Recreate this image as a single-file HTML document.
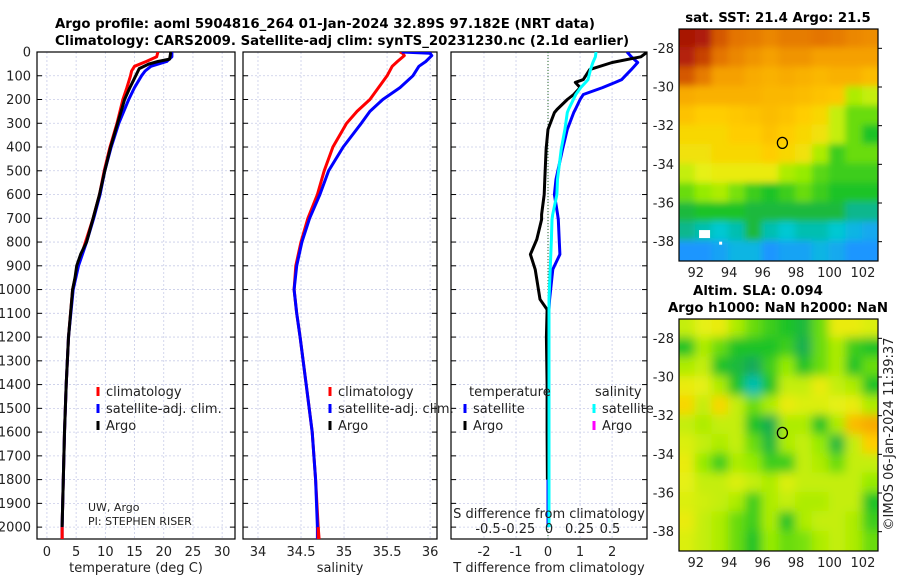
<!DOCTYPE html>
<html><head><meta charset="utf-8"><style>
html,body{margin:0;padding:0;background:#fff}
svg{display:block;font-family:"DejaVu Sans","Liberation Sans",sans-serif}
</style></head><body>
<svg id="fig" width="900" height="580" viewBox="0 0 900 580" xmlns="http://www.w3.org/2000/svg">
<defs>
<clipPath id="c1"><rect x="37" y="52" width="198" height="487"/></clipPath>
<clipPath id="c2"><rect x="243" y="52" width="194" height="487"/></clipPath>
<clipPath id="c3"><rect x="451" y="52" width="196" height="487"/></clipPath>
<clipPath id="cm1"><rect x="679" y="29" width="199" height="232"/></clipPath>
<clipPath id="cm2"><rect x="679" y="319" width="199" height="232"/></clipPath>
<filter id="blr" x="-10%" y="-10%" width="120%" height="120%"><feGaussianBlur stdDeviation="5"/></filter>
<filter id="blr2" x="-10%" y="-10%" width="120%" height="120%"><feGaussianBlur stdDeviation="3.5"/></filter>
</defs>
<text x="55" y="28" font-size="13.3" font-weight="bold">Argo profile: aoml 5904816_264 01-Jan-2024 32.89S 97.182E (NRT data)</text>
<text x="55" y="45" font-size="13.3" font-weight="bold">Climatology: CARS2009. Satellite-adj clim: synTS_20231230.nc (2.1d earlier)</text>
<g id="g"></g>
</svg>
<script>
// ---- profile data ----
const depthT = [0,20,40,60,80,100,150,200,300,400,500,600,700,800,900,1000,1200,1400,1600,1800,2000,2050];
const tempClim = [19.0,18.8,17.0,15.0,14.5,14.3,13.7,13.0,12.0,10.8,9.8,9.0,7.9,6.6,5.3,4.4,3.7,3.3,3.0,2.8,2.6,2.6];
const tempSat = [21.4,21.4,20.5,17.8,16.8,16.2,15.0,14.0,12.3,11.0,9.9,9.1,8.0,6.8,5.4,4.5,3.7,3.3,3.0,2.8,2.6,2.6];
const depthArgo = [0,30,40,50,70,100,130,150,200,300,400,500,600,700,800,850,900,950,1000,1200,1400,1600,1800,2000];
const tempArgo = [21.2,21.0,19.0,17.5,15.8,15.2,14.6,14.2,13.3,12.1,10.9,9.9,9.0,7.9,6.8,5.8,5.1,4.8,4.4,3.7,3.3,3.0,2.8,2.6];
const depthS = [0,5,15,40,60,100,150,200,250,300,400,500,600,700,800,900,1000,1100,1200,1400,1600,1800,2000,2050];
const salClim = [35.65,35.68,35.7,35.62,35.56,35.5,35.4,35.3,35.15,35.03,34.87,34.77,34.69,34.58,34.5,34.44,34.42,34.45,34.49,34.56,34.63,34.67,34.7,34.71];
const salSat = [35.67,36.0,36.02,35.95,35.87,35.8,35.65,35.45,35.3,35.2,34.99,34.82,34.72,34.6,34.51,34.45,34.42,34.45,34.49,34.56,34.63,34.67,34.69,34.69];
const depthD = [0,20,44,74,116,128,150,179,200,242,255,326,410,536,600,684,705,789,852,915,1041,1084,1200,1400,1600,1800,2000];
const tDiffSat = [2.47,2.6,2.8,2.6,2.3,2.1,1.7,1.1,1.0,0.85,0.8,0.6,0.45,0.25,0.2,0.3,0.32,0.35,0.37,0.15,0.05,0.03,0.02,0.0,0.0,0.0,0.0];
const tDiffArgo = [3.1,2.9,2.0,1.3,1.1,0.85,1.0,0.8,0.6,0.28,0.2,0.0,-0.06,-0.1,-0.12,-0.2,-0.2,-0.35,-0.55,-0.4,-0.25,-0.03,-0.05,-0.03,-0.03,-0.02,null];
const sDiffSat = [0.385,0.38,0.36,0.34,0.32,0.3,0.26,0.22,0.2,0.16,0.15,0.13,0.1,0.07,0.065,0.03,0.025,0.02,0.015,0.01,0.0,0.0,0.0,0.0,0.0,0.0,0.0];
// ticks
const depthTicks = [0,100,200,300,400,500,600,700,800,900,1000,1100,1200,1300,1400,1500,1600,1700,1800,1900,2000];
const tempTicks = [0,5,10,15,20,25,30];
const salTicks = [34,34.5,35,35.5,36];
const salTickLabels = ["34","34.5","35","35.5","36"];
const tdTicks = [-2,-1,0,1,2];
const sdTicks = [-0.5,-0.25,0,0.25,0.5];
const sdTickLabels = ["-0.5","-0.25","0","0.25","0.5"];
// ---- map data ----
const mapLon = [91.5,92.5,93.5,94.5,95.5,96.5,97.5,98.5,99.5,100.5,101.5,102.5];
const mapLat = [-27.5,-28.5,-29.5,-30.5,-31.5,-32.5,-33.5,-34.5,-35.5,-36.5,-37.5,-38.5];
const sstGrid = [
[.97,.96,.9,.87,.86,.84,.86,.86,.87,.86,.84,.83],
[.95,.92,.87,.84,.82,.8,.82,.82,.8,.8,.8,.8],
[.9,.86,.8,.8,.78,.77,.78,.77,.76,.77,.77,.75],
[.78,.77,.77,.77,.77,.76,.76,.75,.74,.73,.6,.62],
[.74,.72,.72,.73,.74,.75,.74,.72,.7,.62,.55,.55],
[.7,.7,.7,.72,.72,.74,.72,.7,.68,.62,.55,.5],
[.68,.68,.7,.7,.7,.72,.7,.68,.6,.52,.55,.55],
[.62,.65,.66,.66,.66,.66,.6,.58,.54,.52,.52,.52],
[.55,.58,.6,.56,.52,.5,.52,.55,.52,.5,.5,.5],
[.48,.5,.5,.5,.48,.48,.48,.48,.48,.48,.42,.42],
[.42,.4,.38,.4,.48,.4,.38,.4,.4,.38,.35,.33],
[.3,.3,.32,.35,.35,.3,.32,.32,.35,.33,.3,.3]];
const slaGrid = [
[.62,.65,.66,.6,.55,.52,.5,.48,.55,.66,.66,.64],
[.5,.6,.55,.5,.5,.5,.52,.46,.55,.6,.52,.5],
[.6,.62,.5,.48,.45,.52,.58,.5,.55,.6,.5,.55],
[.66,.65,.6,.5,.4,.5,.62,.62,.66,.62,.6,.5],
[.7,.62,.7,.62,.55,.6,.66,.64,.64,.65,.66,.6],
[.62,.6,.62,.62,.5,.46,.6,.6,.5,.6,.75,.78],
[.64,.62,.6,.62,.55,.48,.6,.62,.58,.48,.62,.72],
[.66,.58,.52,.6,.58,.52,.52,.62,.6,.55,.62,.62],
[.65,.62,.62,.64,.62,.6,.64,.62,.62,.62,.62,.58],
[.64,.63,.62,.6,.52,.6,.62,.6,.6,.62,.62,.5],
[.66,.62,.6,.55,.52,.6,.5,.6,.62,.62,.6,.52],
[.64,.62,.6,.55,.5,.58,.55,.56,.6,.62,.6,.55]];
const floatLon = 97.182, floatLat = -32.89;
const lonTicks = [92,94,96,98,100,102];
const latTicks = [-28,-30,-32,-34,-36,-38];

const NS="http://www.w3.org/2000/svg";
const G=document.getElementById('g');
function el(t,a,p){const e=document.createElementNS(NS,t);for(const k in a)e.setAttribute(k,a[k]);(p||G).appendChild(e);return e;}
function txt(x,y,s,a,p){const e=el('text',Object.assign({x:x,y:y,'font-size':13,fill:'#222'},a||{}),p);e.textContent=s;return e;}

const Y0=52,Y1=539,DMAX=2050;
const yD=d=>Y0+(Y1-Y0)*d/DMAX;
function lin(d0,d1,p0,p1){return v=>p0+(p1-p0)*(v-d0)/(d1-d0);}
const panels=[
 {x0:37,x1:235,f:lin(-1.7,32.2,37,235),ticks:tempTicks,labels:tempTicks.map(String),name:'temperature',clip:'c1',xl:'temperature (deg C)'},
 {x0:243,x1:437,f:lin(33.826,36.08,243,437),ticks:salTicks,labels:salTickLabels,name:'salinity',clip:'c2',xl:'salinity'},
 {x0:451,x1:647,f:lin(-3.03,3.09,451,647),ticks:tdTicks,labels:tdTicks.map(String),name:'difference',clip:'c3',xl:'T difference from climatology'}];
const sdX=lin(-0.5,0.5,488,610);

function drawLine(xs,ds,fx,color,w,clip,name){
 let pts=[];for(let i=0;i<xs.length;i++){if(xs[i]==null)continue;pts.push(fx(xs[i]).toFixed(1)+','+yD(ds[i]).toFixed(1));}
 const p=el('polyline',{points:pts.join(' '),fill:'none',stroke:color,'stroke-width':w,'stroke-linejoin':'round','clip-path':'url(#'+clip+')'});
 
 
 return p;}

panels.forEach((P,pi)=>{
 const g=el('g',{});
 
 
 depthTicks.forEach(d=>{el('line',{x1:P.x0,x2:P.x1,y1:yD(d),y2:yD(d),stroke:'#c8cce8','stroke-width':0.8,'stroke-dasharray':'2,2'},g);
  el('line',{x1:P.x0,x2:P.x0+5,y1:yD(d),y2:yD(d),stroke:'#000'},g);
  el('line',{x1:P.x1-5,x2:P.x1,y1:yD(d),y2:yD(d),stroke:'#000'},g);});
 P.ticks.forEach((t,i)=>{const x=P.f(t);
  el('line',{x1:x,x2:x,y1:Y0,y2:Y1,stroke:'#c8cce8','stroke-width':0.8,'stroke-dasharray':'2,2'},g);
  const lb=txt(x,556,P.labels[i],{'text-anchor':'middle'},g);
  
  });
 el('rect',{x:P.x0,y:Y0,width:P.x1-P.x0,height:Y1-Y0,fill:'none',stroke:'#000','stroke-width':1.2},g);
 const xt=txt((P.x0+P.x1)/2,572,P.xl,{'text-anchor':'middle'},g);
 
 
});
depthTicks.forEach(d=>{const t=txt(31,yD(d)+4.5,String(d),{'text-anchor':'end'});
 
 });

el('line',{x1:548,x2:548,y1:Y0,y2:Y1,stroke:'#2a6a2a','stroke-width':1,'stroke-dasharray':'1,2'});

drawLine(tempClim,depthT,panels[0].f,'#f00',3,'c1','temp-climatology-line');
drawLine(tempSat,depthT,panels[0].f,'#00f',3,'c1','temp-satellite-line');
drawLine(tempArgo,depthArgo,panels[0].f,'#000',3,'c1','temp-argo-line');
drawLine(salClim,depthS,panels[1].f,'#f00',3,'c2','sal-climatology-line');
drawLine(salSat,depthS,panels[1].f,'#00f',3,'c2','sal-satellite-line');
drawLine(tDiffSat,depthD,panels[2].f,'#00f',3,'c3','tdiff-satellite-line');
drawLine(tDiffArgo,depthD,panels[2].f,'#000',3,'c3','tdiff-argo-line');
drawLine(sDiffSat,depthD,sdX,'#00ffff',3,'c3','sdiff-satellite-line');
el('line',{x1:panels[0].f(2.6),x2:panels[0].f(2.6),y1:yD(2000),y2:Y1,stroke:'#f00','stroke-width':3});
el('line',{x1:panels[1].f(34.7),x2:panels[1].f(34.7),y1:yD(2000),y2:Y1,stroke:'#f00','stroke-width':3});

function legend(x,y,c,label,name){const g=el('g',{});
 
 
 el('line',{x1:x,x2:x,y1:y-9,y2:y,stroke:c,'stroke-width':3},g);txt(x+8,y,label,{},g);}
[[98,'temperature'],[330,'salinity']].forEach(([x,n])=>{
 legend(x,396,'#f00','climatology',n+'-legend-climatology');
 legend(x,413,'#00f','satellite-adj. clim.',n+'-legend-satellite');
 legend(x,430,'#000','Argo',n+'-legend-argo');});
txt(469,396,'temperature');
legend(465,413,'#00f','satellite','diff-legend-t-satellite');
legend(465,430,'#000','Argo','diff-legend-t-argo');
txt(595,396,'salinity');
legend(594,413,'#00ffff','satellite','diff-legend-s-satellite');
legend(594,430,'#ff00ff','Argo','diff-legend-s-argo');
txt(549,518,'S difference from climatology',{'text-anchor':'middle','font-size':13});
sdTicks.forEach((t,i)=>{const e=txt(sdX(t),533,sdTickLabels[i],{'text-anchor':'middle'});
 
 });
txt(88,511,'UW, Argo',{'font-size':11});
txt(88,525,'PI: STEPHEN RISER',{'font-size':11});

const stops=[[0,[0,60,255]],[0.3,[30,150,255]],[0.38,[0,200,210]],[0.45,[20,170,90]],[0.5,[30,195,40]],[0.58,[150,235,0]],[0.65,[230,240,20]],[0.72,[255,205,0]],[0.8,[245,160,0]],[0.88,[225,110,0]],[0.95,[180,35,10]],[1,[150,0,0]]];
function cmap(v){for(let i=1;i<stops.length;i++){if(v<=stops[i][0]){const a=stops[i-1],b=stops[i],t=(v-a[0])/(b[0]-a[0]);return 'rgb('+a[1].map((c,k)=>Math.round(c+(b[1][k]-c)*t)).join(',')+')';}}return 'rgb(150,0,0)';}

function drawMap(grid,top,bottom,clip,filter,name){
 const fx=lin(91,102.9,679,878), fy=lin(-27,-39,top,bottom);
 const g=el('g',{'clip-path':'url(#'+clip+')'});
 
 
 const inner=el('g',{filter:'url(#'+filter+')'},g);
 grid.forEach((row,r)=>row.forEach((v,c)=>{
  let x=fx(mapLon[c]-0.5),y=fy(mapLat[r]+0.5);
  let x2=fx(mapLon[c]+0.5),y2=fy(mapLat[r]-0.5);
  if(c==0)x-=15; if(c==row.length-1)x2+=15; if(r==0)y-=15; if(r==grid.length-1)y2+=15;
  el('rect',{x:x-1,y:y-1,width:x2-x+2,height:y2-y+2,fill:cmap(v)},inner);}));
 el('rect',{x:679,y:top,width:199,height:bottom-top,fill:'none',stroke:'#000','stroke-width':1.2});
 const mk=el('ellipse',{cx:fx(floatLon),cy:fy(floatLat),rx:5,ry:5.5,fill:'none',stroke:'#000','stroke-width':1.3});
 
 
 latTicks.forEach(l=>{const y=fy(l);el('line',{x1:878,x2:882,y1:y,y2:y,stroke:'#000'});
  const t=txt(674,y+4.5,String(l),{'text-anchor':'end'});});
 lonTicks.forEach(l=>{const x=fx(l);
  const t=txt(x,bottom+16,String(l),{'text-anchor':'middle'});});
 return {fx,fy,g};
}
const m1=drawMap(sstGrid,29,261,'cm1','blr2','sst-map');
el('rect',{x:m1.fx(92.2),y:m1.fy(-37.4),width:11,height:8,fill:'#fff'});
el('rect',{x:m1.fx(93.4),y:m1.fy(-38.0),width:3,height:3,fill:'#fff'});
const m2=drawMap(slaGrid,319,551,'cm2','blr','sla-map');
txt(778,22,'sat. SST: 21.4 Argo: 21.5',{'text-anchor':'middle','font-weight':'bold','font-size':13.3,fill:'#000'});
txt(758,295,'Altim. SLA: 0.094',{'text-anchor':'middle','font-weight':'bold','font-size':13.3,fill:'#000'});
txt(778,312,'Argo h1000: NaN h2000: NaN',{'text-anchor':'middle','font-weight':'bold','font-size':13.3,fill:'#000'});
txt(0,0,'©IMOS 06-Jan-2024 11:39:37',{'text-anchor':'middle',transform:'translate(893,434) rotate(-90)'});
</script>
</body></html>
